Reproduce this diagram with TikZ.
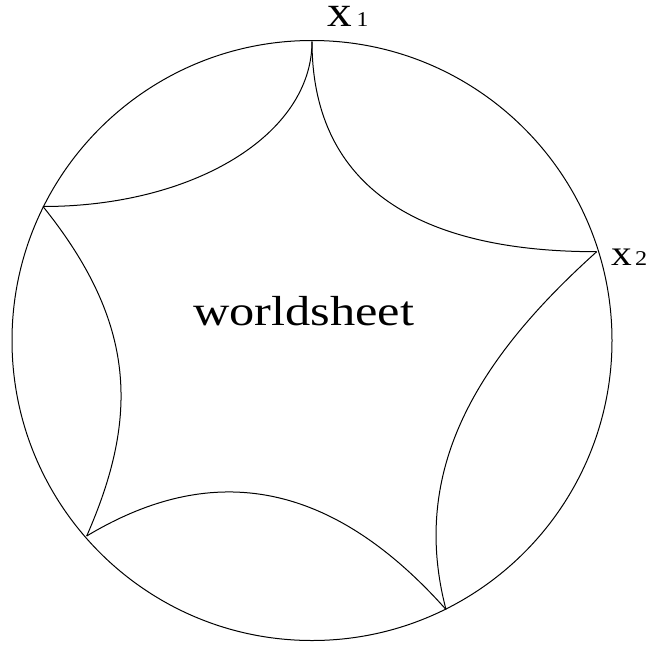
\documentclass[tikz,border=0pt]{standalone}
\usepackage{fontspec}
\setmainfont{Liberation Serif}
\begin{document}
\begin{tikzpicture}[x=1pt,y=-1pt,
  edge/.style={line width=1pt, line join=round},
  lbl/.style={inner sep=0pt, outer sep=0pt, anchor=base west}]
\useasboundingbox (0,0) rectangle (656,646);
% vertices on the boundary
\coordinate (O) at (312,340.5);
\coordinate (T) at (312,41.5);
\coordinate (X2) at (596.7,251.7);
\coordinate (BR) at (446,609.5);
\coordinate (BL) at (86.7,536);
\coordinate (L) at (43,206.5);
% boundary circle
\draw[edge] (O) circle[radius=300pt];
% inner arcs
\draw[edge] (T) .. controls +(0,93) and +(151,0) .. (L);
\draw[edge] (T) .. controls +(0,138.4) and +(-187.8,0) .. (X2);
\draw[edge] (X2) .. controls +(-118.9,106.9) and +(-36.8,-140.2) .. (BR);
\draw[edge] (BR) .. controls +(-133,-149.4) and +(103,-61.8) .. (BL);
\draw[edge] (L) .. controls +(93.9,116.9) and +(52.3,-119.1) .. (BL);
% labels
\node[lbl] (ws) at (193,325) {\scalebox{1.2}[1]{\fontsize{42}{42}\selectfont worldsheet}};
\node[lbl] (x1) at (327,26.5) {\scalebox{1.12}[1]{\fontsize{44}{44}\selectfont x\hspace{4.5pt}\fontsize{21}{21}\selectfont 1}};
\node[lbl] (x2) at (611,265) {\scalebox{1.15}[1]{\fontsize{36}{36}\selectfont x\hspace{3pt}\fontsize{21}{21}\selectfont 2}};
\end{tikzpicture}
\end{document}
